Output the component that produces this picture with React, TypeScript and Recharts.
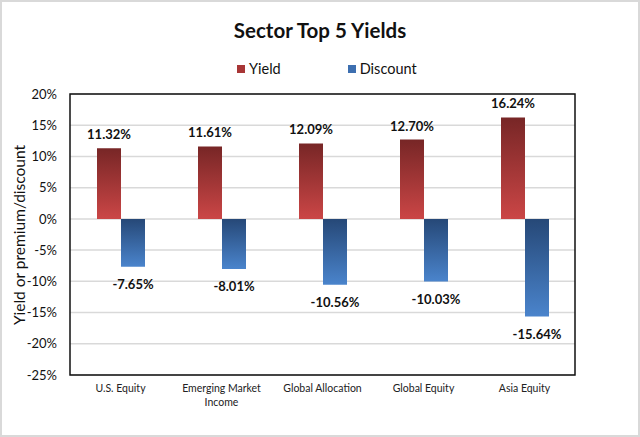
import React from 'react';
import {
    BarChart,
    Bar,
    XAxis,
    YAxis,
    CartesianGrid,
    LabelList,
    ReferenceArea,
} from 'recharts';

// values (percent)
const sectors = ['U.S. Equity', 'Emerging Market Income', 'Global Allocation', 'Global Equity', 'Asia Equity'];
const yieldValues = [11.32, 11.61, 12.09, 12.7, 16.24];
const discountValues = [-7.65, -8.01, -10.56, -10.03, -15.64];
const yTicks = [-25, -20, -15, -10, -5, 0, 5, 10, 15, 20];

const chartData = sectors.map((name, i) => ({
    name,
    yield: yieldValues[i],
    discount: discountValues[i],
}));

const FONT = 'Lato, "Open Sans", sans-serif';

const valueLabel = (props) => {
    const { x, y, width, height, value } = props;
    const top = Math.min(y, y + height);
    const bottom = Math.max(y, y + height);
    const ty = value >= 0 ? top - 14 : bottom + 17;
    return (
        <text
            x={x + width / 2}
            y={ty}
            textAnchor="middle"
            dominantBaseline="central"
            fontFamily={FONT}
            fontWeight={700}
            fontSize={13}
            fill="#111"
        >
            {value.toFixed(2)}%
        </text>
    );
};

const SectorTick = (props) => {
    const { x, y, payload } = props;
    const name = payload.value;
    let lines = [name];
    if (name.length > 18) {
        const cut = name.lastIndexOf(' ');
        lines = [name.slice(0, cut), name.slice(cut + 1)];
    }
    return (
        <text x={x} y={y + 9} textAnchor="middle" fontFamily={FONT} fontSize={10.5} fill="#222">
            {lines.map((l, i) => (
                <tspan key={i} x={x} dy={i === 0 ? 0 : 14}>{l}</tspan>
            ))}
        </text>
    );
};

const yAxisTitle = () => (
    <text
        x={19}
        y={235}
        transform="rotate(-90 19 235)"
        textAnchor="middle"
        dominantBaseline="central"
        fontFamily={FONT}
        fontSize={15.5}
        fill="#111"
    >
        Yield or premium/discount
    </text>
);

export default function App() {
    return (
        <div
            style={{
                position: 'absolute',
                left: 0,
                top: 0,
                width: 640,
                height: 437,
                boxSizing: 'border-box',
                border: '2px solid #d9d9d9',
                background: '#fff',
                fontFamily: FONT,
            }}
        >
            <div
                style={{
                    position: 'absolute',
                    left: -2,
                    top: 16,
                    width: 640,
                    textAlign: 'center',
                    fontSize: 20.5,
                    fontWeight: 700,
                    color: '#111',
                }}
            >
                Sector Top 5 Yields
            </div>
            <div style={{ position: 'absolute', left: 235, top: 58, fontSize: 14.5, color: '#111', display: 'flex', alignItems: 'center' }}>
                <span style={{ width: 8, height: 8, background: '#a83636', display: 'inline-block', marginRight: 4 }} />
                <span>Yield</span>
                <span style={{ width: 8, height: 8, background: '#3d6fb0', display: 'inline-block', marginLeft: 67, marginRight: 4 }} />
                <span>Discount</span>
            </div>
            <div style={{ position: 'absolute', left: -2, top: -2 }}>
                <BarChart
                    width={640}
                    height={437}
                    data={chartData}
                    margin={{ top: 94, right: 65, bottom: 22, left: 0 }}
                    barSize={24}
                    barGap={0}
                >
                    <defs>
                        <linearGradient id="gradYield" x1="0" y1="0" x2="0" y2="1">
                            <stop offset="0%" stopColor="#772626" />
                            <stop offset="100%" stopColor="#cb4646" />
                        </linearGradient>
                        <linearGradient id="gradDiscount" x1="0" y1="0" x2="0" y2="1">
                            <stop offset="0%" stopColor="#264877" />
                            <stop offset="100%" stopColor="#4a84cc" />
                        </linearGradient>
                    </defs>
                    <CartesianGrid vertical={false} stroke="#d9d9d9" strokeWidth={1.5} />
                    <XAxis
                        dataKey="name"
                        axisLine={false}
                        tickLine={false}
                        height={40}
                        interval={0}
                        tick={<SectorTick />}
                    />
                    <YAxis
                        width={70}
                        domain={[-25, 20]}
                        ticks={yTicks}
                        axisLine={false}
                        tickLine={false}
                        tickMargin={7}
                        tickFormatter={(v) => `${v}%`}
                        tick={{ fontFamily: FONT, fontSize: 13, fill: '#111' }}
                        label={{ content: yAxisTitle }}
                    />
                    <Bar dataKey="yield" fill="url(#gradYield)" isAnimationActive={false}>
                        <LabelList dataKey="yield" content={valueLabel} />
                    </Bar>
                    <Bar dataKey="discount" fill="url(#gradDiscount)" isAnimationActive={false}>
                        <LabelList dataKey="discount" content={valueLabel} />
                    </Bar>
                    <ReferenceArea y1={-25} y2={20} fill="none" stroke="#111" strokeWidth={1.5} ifOverflow="visible" />
                </BarChart>
            </div>
        </div>
    );
}
